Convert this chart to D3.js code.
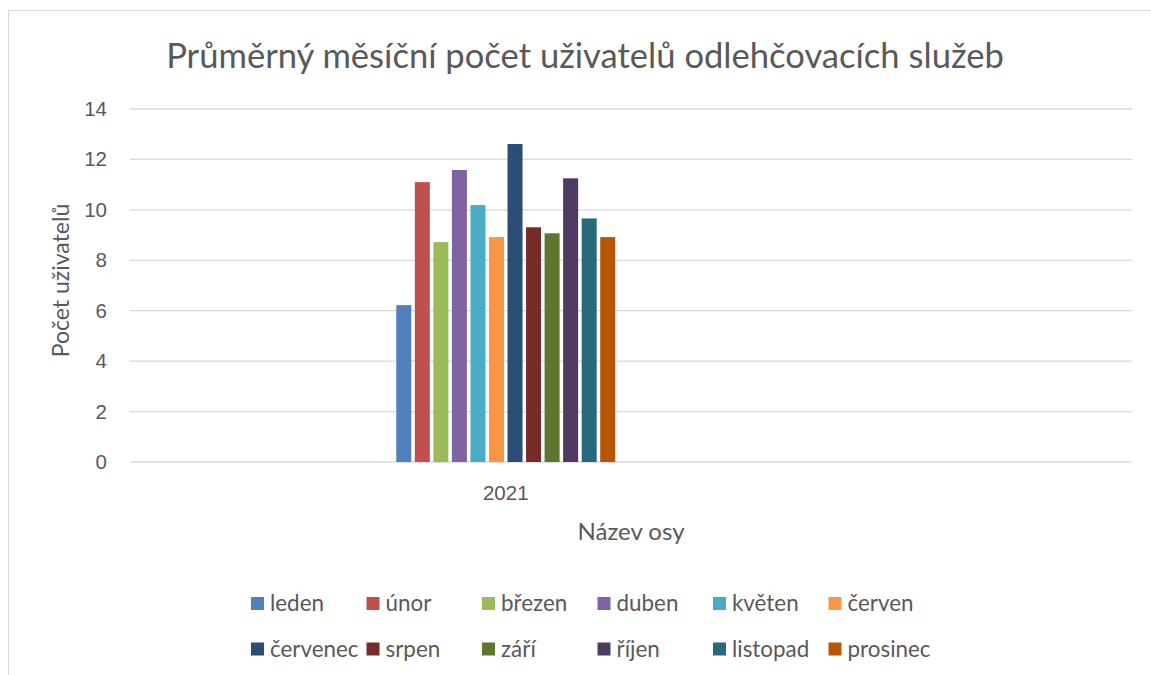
<!DOCTYPE html>
<html>
<head>
<meta charset="utf-8">
<script src="https://cdn.jsdelivr.net/npm/d3@7"></script>
<style>
  body { margin: 0; background: #fff; }
  svg { display: block; font-family: Lato, "Open Sans", sans-serif; }
</style>
</head>
<body>
<svg id="chart"></svg>
<script>
const title = 'Průměrný měsíční počet uživatelů odlehčovacích služeb';
const yTitle = 'Počet uživatelů';
const xTitle = 'Název osy';

// the category axis has four slots, only the second one has data
const categories = ['', '2021', '', ''];
const months = ['leden', 'únor', 'březen', 'duben', 'květen', 'červen',
  'červenec', 'srpen', 'září', 'říjen', 'listopad', 'prosinec'];
const values = [6.22, 11.1, 8.72, 11.58, 10.19, 8.92, 12.61, 9.31, 9.07, 11.25, 9.66, 8.92];
const colors = ['#4F81BD', '#C0504D', '#9BBB59', '#8064A2', '#4BACC6', '#F79646',
  '#2C4D75', '#772C2A', '#5F7530', '#4D3B62', '#276A7C', '#B65708'];
const yTicks = [0, 2, 4, 6, 8, 10, 12, 14];

const width = 1151;
const height = 675;
const plot = { left: 130, right: 1132, top: 109, bottom: 462 };
const textColor = '#595959';

const svg = d3.select('#chart')
  .attr('width', width)
  .attr('height', height);

// chart frame
svg.append('rect')
  .attr('x', 8.5)
  .attr('y', 10.5)
  .attr('width', width)
  .attr('height', height)
  .attr('fill', 'none')
  .attr('stroke', '#d9d9d9');

const y = d3.scaleLinear()
  .domain([0, 14])
  .range([plot.bottom, plot.top]);

const x0 = d3.scaleBand()
  .domain(d3.range(categories.length))
  .range([plot.left, plot.right])
  .paddingInner(0.126)
  .paddingOuter(0.063);

const x1 = d3.scaleBand()
  .domain(months)
  .range([0, x0.bandwidth()])
  .paddingInner(0.19);

const color = d3.scaleOrdinal()
  .domain(months)
  .range(colors);

// gridlines
svg.append('g')
  .selectAll('line')
  .data(yTicks)
  .enter()
  .append('line')
  .attr('x1', plot.left)
  .attr('x2', plot.right)
  .attr('y1', d => y(d))
  .attr('y2', d => y(d))
  .attr('stroke', '#d9d9d9')
  .attr('stroke-width', 1.3);

// y axis labels
const yAxis = svg.append('g')
  .attr('transform', `translate(${plot.left - 23},0)`)
  .call(d3.axisLeft(y).tickValues(yTicks).tickSize(0).tickPadding(0));
yAxis.select('.domain').remove();
yAxis.selectAll('text')
  .attr('fill', textColor)
  .style('font-size', '20.5px');

// bars
const group = svg.append('g')
  .attr('transform', `translate(${x0(1)},0)`);

group.selectAll('rect')
  .data(months.map((m, i) => ({ month: m, value: values[i] })))
  .enter()
  .append('rect')
  .attr('x', d => x1(d.month))
  .attr('y', d => y(d.value))
  .attr('width', x1.bandwidth())
  .attr('height', d => y(0) - y(d.value))
  .attr('fill', d => color(d.month));

// x axis labels
const xAxis = svg.append('g')
  .attr('transform', `translate(0,${plot.bottom + 23})`)
  .call(d3.axisBottom(x0).tickFormat(i => categories[i]).tickSize(0).tickPadding(0));
xAxis.select('.domain').remove();
xAxis.selectAll('text')
  .attr('fill', textColor)
  .style('font-size', '20.5px');

// titles
svg.append('text')
  .attr('x', 585)
  .attr('y', 68)
  .attr('text-anchor', 'middle')
  .attr('fill', textColor)
  .style('font-size', '34.6px')
  .text(title);

svg.append('text')
  .attr('transform', `translate(69,${(plot.top + plot.bottom) / 2 - 5}) rotate(-90)`)
  .attr('text-anchor', 'middle')
  .attr('fill', textColor)
  .style('font-size', '23px')
  .text(yTitle);

svg.append('text')
  .attr('x', (plot.left + plot.right) / 2)
  .attr('y', 540)
  .attr('text-anchor', 'middle')
  .attr('fill', textColor)
  .style('font-size', '24px')
  .text(xTitle);

// legend
const legend = svg.append('g')
  .selectAll('g')
  .data(months)
  .enter()
  .append('g')
  .attr('transform', (d, i) => `translate(${251 + (i % 6) * 115.5},${603.5 + Math.floor(i / 6) * 45.5})`);

legend.append('rect')
  .attr('x', 0)
  .attr('y', -6.5)
  .attr('width', 13)
  .attr('height', 13)
  .attr('fill', d => color(d));

legend.append('text')
  .attr('x', 19)
  .attr('y', 0)
  .attr('dy', '0.35em')
  .attr('fill', textColor)
  .style('font-size', '22.4px')
  .text(d => d);
</script>
</body>
</html>
